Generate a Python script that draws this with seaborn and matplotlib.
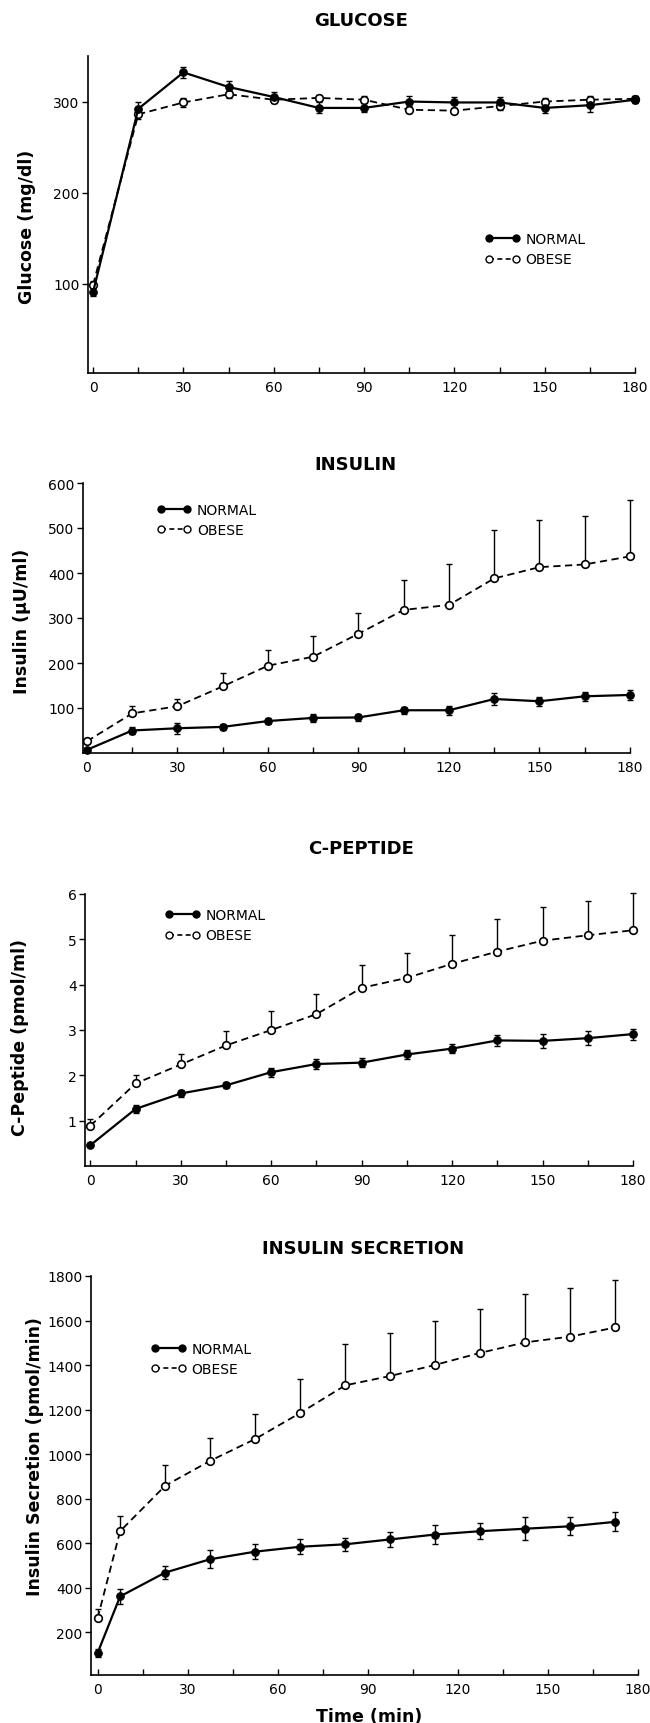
import matplotlib
matplotlib.use("Agg")
import matplotlib.pyplot as plt
from matplotlib.lines import Line2D
import seaborn as sns
import numpy as np
import pandas as pd

# ---------------- data ----------------
time = [0, 15, 30, 45, 60, 75, 90, 105, 120, 135, 150, 165, 180]
time_secretion = [0, 7.5, 22.5, 37.5, 52.5, 67.5, 82.5, 97.5, 112.5, 127.5, 142.5, 157.5, 172.5]

glucose_normal = [91, 292, 332, 316, 305, 293, 293, 300, 299, 299, 293, 296, 302]
glucose_normal_err = [5, 7, 6, 7, 6, 6, 5, 6, 6, 6, 6, 8, 4]
glucose_obese = [99, 286, 299, 308, 302, 304, 302, 291, 290, 295, 300, 302, 303]
glucose_obese_err = [4, 5, 5, 4, 4, 3, 4, 4, 3, 4, 4, 4, 3]

insulin_normal = [7, 50, 55, 58, 71, 78, 79, 95, 95, 120, 115, 126, 129]
insulin_normal_err = [5, 8, 12, 7, 7, 9, 7, 8, 10, 14, 10, 10, 11]
insulin_obese = [26, 88, 104, 148, 194, 214, 265, 318, 329, 388, 413, 419, 437]
insulin_obese_err = [5, 17, 16, 30, 34, 46, 46, 66, 92, 108, 104, 108, 126]

cpep_normal = [0.46, 1.26, 1.60, 1.78, 2.07, 2.25, 2.28, 2.46, 2.59, 2.77, 2.76, 2.82, 2.91]
cpep_normal_err = [0.05, 0.08, 0.08, 0.07, 0.10, 0.10, 0.10, 0.10, 0.10, 0.12, 0.15, 0.15, 0.12]
cpep_obese = [0.89, 1.82, 2.24, 2.66, 3.00, 3.35, 3.93, 4.15, 4.46, 4.73, 4.97, 5.09, 5.20]
cpep_obese_err = [0.15, 0.18, 0.22, 0.31, 0.43, 0.44, 0.51, 0.54, 0.64, 0.72, 0.75, 0.75, 0.82]

sec_normal = [107, 361, 468, 528, 562, 584, 595, 617, 639, 654, 665, 676, 696]
sec_normal_err = [18, 34, 30, 41, 34, 34, 30, 33, 41, 37, 51, 40, 42]
sec_obese = [263, 654, 858, 970, 1068, 1185, 1309, 1351, 1401, 1455, 1502, 1528, 1569]
sec_obese_err = [41, 70, 91, 101, 114, 154, 186, 192, 198, 199, 216, 217, 213]

titles = ["GLUCOSE", "INSULIN", "C-PEPTIDE", "INSULIN SECRETION"]
ylabels = ["Glucose (mg/dl)", "Insulin (\u03bcU/ml)", "C-Peptide (pmol/ml)", "Insulin Secretion (pmol/min)"]
yticks_list = [[100, 200, 300], [100, 200, 300, 400, 500, 600],
               [1, 2, 3, 4, 5, 6], [200, 400, 600, 800, 1000, 1200, 1400, 1600, 1800]]
xticks = [0, 30, 60, 90, 120, 150, 180]
legend_labels = ["NORMAL", "OBESE"]

# ---------------- style ----------------
sns.set_theme(style="ticks")
plt.rcParams["font.family"] = ["DejaVu Sans"]
plt.rcParams["text.color"] = "black"
plt.rcParams["axes.labelcolor"] = "black"
plt.rcParams["xtick.color"] = "black"
plt.rcParams["ytick.color"] = "black"
plt.rcParams["axes.edgecolor"] = "black"

W, H = 650, 1724
fig = plt.figure(figsize=(W / 100, H / 100), dpi=100)
fig.patch.set_facecolor("white")

def axes_px(left, right, top, bottom):
    return fig.add_axes([left / W, 1 - bottom / H, (right - left) / W, (bottom - top) / H])

panels = [
    dict(box=(88, 635, 57, 374), xlim=(-1.7, 180), ylim=(2, 350), t=time,
         n=glucose_normal, ne=glucose_normal_err, o=glucose_obese, oe=glucose_obese_err,
         obese_sym=True, leg=(0.726, 0.416), title_y=21, title_x=361, yl=(27, 227)),
    dict(box=(83, 630, 484, 754), xlim=(-1.3, 180), ylim=(0, 600), t=time,
         n=insulin_normal, ne=insulin_normal_err, o=insulin_obese, oe=insulin_obese_err,
         obese_sym=False, leg=(0.135, 0.893), title_y=465, title_x=355, yl=(22, 621)),
    dict(box=(85, 633, 895, 1167), xlim=(-1.8, 180), ylim=(0, 6), t=time,
         n=cpep_normal, ne=cpep_normal_err, o=cpep_obese, oe=cpep_obese_err,
         obese_sym=False, leg=(0.146, 0.915), title_y=849, title_x=361, yl=(20, 1038)),
    dict(box=(91, 638, 1277, 1676), xlim=(-2.2, 180), ylim=(8, 1800), t=time_secretion,
         n=sec_normal, ne=sec_normal_err, o=sec_obese, oe=sec_obese_err,
         obese_sym=False, leg=(0.11, 0.812), title_y=1249, title_x=363, yl=(35, 1457)),
]

def unclip(container):
    for group in container.lines[1:]:
        for art in group:
            art.set_clip_on(False)

ms = 5.5
for i, p in enumerate(panels):
    ax = axes_px(*p["box"])
    t = np.array(p["t"], dtype=float)
    n = np.array(p["n"], dtype=float)
    o = np.array(p["o"], dtype=float)
    ne = np.array(p["ne"], dtype=float)
    oe = np.array(p["oe"], dtype=float)

    # error bars
    c1 = ax.errorbar(t, n, yerr=ne, fmt="none", ecolor="black", elinewidth=1.0,
                     capsize=2, capthick=1.0, zorder=2)
    unclip(c1)
    if p["obese_sym"]:
        c2 = ax.errorbar(t, o, yerr=oe, fmt="none", ecolor="black", elinewidth=1.0,
                         capsize=2, capthick=1.0, zorder=2)
    else:
        c2 = ax.errorbar(t, o, yerr=[np.zeros_like(oe), oe], fmt="none", ecolor="black",
                         elinewidth=1.0, capsize=2, capthick=1.0, zorder=2)
    unclip(c2)

    # lines with seaborn
    sns.lineplot(x=t, y=n, ax=ax, color="black", linewidth=1.6, marker="o",
                 markersize=ms, markerfacecolor="black", markeredgecolor="black",
                 estimator=None, sort=False, zorder=4)
    sns.lineplot(x=t, y=o, ax=ax, color="black", linewidth=1.3, marker="o",
                 markersize=ms, markerfacecolor="white", markeredgecolor="black",
                 markeredgewidth=1.2, estimator=None, sort=False, zorder=3)
    ax.lines[-1].set_linestyle((0, (4, 2.5)))
    for ln in ax.lines:
        ln.set_clip_on(False)

    ax.set_xlim(*p["xlim"])
    ax.set_ylim(*p["ylim"])
    ax.set_xticks(xticks)
    ax.set_xticks(list(range(15, 180, 30)), minor=True)
    ax.set_yticks(yticks_list[i])
    ax.tick_params(axis="x", which="both", direction="in", length=4, width=1,
                   labelsize=10, pad=5, colors="black")
    ax.tick_params(axis="y", which="major", direction="out", length=4, width=1,
                   labelsize=10, pad=2, colors="black")
    for s in ["top", "right"]:
        ax.spines[s].set_visible(False)
    for s in ["left", "bottom"]:
        ax.spines[s].set_color("black")
        ax.spines[s].set_linewidth(1.2)
    ax.set_xlabel("")
    ax.set_ylabel("")
    ax.grid(False)

    # legend
    handles = [
        Line2D([], [], color="black", linewidth=1.6, marker="o", markersize=ms - 0.5,
               markerfacecolor="black", markeredgecolor="black"),
        Line2D([], [], color="black", linewidth=1.2, linestyle=(0, (3, 2)), marker="o",
               markersize=ms - 0.5, markerfacecolor="white", markeredgecolor="black"),
    ]
    bh = p["box"][3] - p["box"][2]
    lx, ly = p["leg"]
    leg = ax.legend(handles, legend_labels, loc="upper left",
                    bbox_to_anchor=(lx, ly + 9 / bh), frameon=False, numpoints=2,
                    handlelength=2.5, handletextpad=0.4, labelspacing=0.45,
                    borderpad=0, borderaxespad=0, fontsize=10)
    for txt in leg.get_texts():
        txt.set_color("black")

    fig.text(p["title_x"] / W, 1 - p["title_y"] / H, titles[i], ha="center", va="center",
             fontsize=13, fontweight="bold", color="black")
    fig.text(p["yl"][0] / W, 1 - p["yl"][1] / H, ylabels[i], ha="center", va="center",
             rotation=90, fontsize=12.5, fontweight="bold", color="black")

fig.text(369 / W, 1 - 1717 / H, "Time (min)", ha="center", va="center",
         fontsize=12.5, fontweight="bold", color="black")

fig.savefig("out.png", dpi=100, facecolor="white")
